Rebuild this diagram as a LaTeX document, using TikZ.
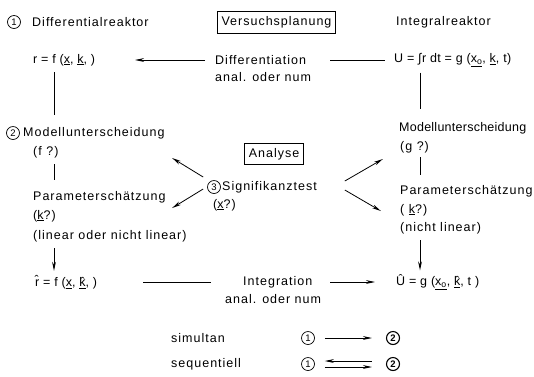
\documentclass[tikz,border=0pt]{standalone}
\usepackage{fontspec}
\setmainfont{Liberation Sans}[LetterSpace=8]
\usetikzlibrary{arrows.meta}
\newcommand{\tightls}{\addfontfeature{LetterSpace=3}}
\begin{document}
\begin{tikzpicture}[x=1pt,y=-1pt,
  lbl/.style={anchor=west,inner sep=0pt,font=\fontsize{12.5}{14}\selectfont},
  num/.style={circle,draw,line width=0.7pt,minimum size=13pt,inner sep=0pt,font=\fontsize{9.5}{10}\selectfont},
  titlebox/.style={draw,line width=0.8pt,inner xsep=4pt,inner ysep=5pt,font=\fontsize{12.5}{14}\selectfont},
  conn/.style={line width=0.8pt},
  arr/.style={line width=0.8pt,-{Stealth[length=9pt,width=3.8pt]}}]
\useasboundingbox (0,0) rectangle (534,376);

% headers
\node[num] (n1) at (14,22) {1};
\node[lbl] (dr) at (32,22) {Differentialreaktor};
\node[titlebox] (vp) at (276.5,22.5) {Versuchsplanung};
\node[lbl] (ir) at (396,22) {Integralreaktor};

% row 1
\node[lbl] (r) at (33,60) {\tightls r = f (\underline{x}, \underline{k}, )};
\node[lbl] (diff) at (215,60) {Differentiation};
\node[lbl] (diff2) at (215,77) {anal. oder num};
\node[lbl] (U) at (394,60) {\tightls U = ∫r dt = g (\underline{x\textsubscript{o}}, \underline{k}, t)};
\draw[arr] ([xshift=-10pt]diff.west) -- ([xshift=102pt]r.west);
\draw[conn] ([xshift=115pt]diff.west) -- ([xshift=-9pt]U.west);

% left column
\node[num] (n2) at (13,133) {2};
\node[lbl] (m1) at (23,133) {Modellunterscheidung};
\node[lbl] (f) at (33,152) {(f ?)};
\node[lbl] (p1) at (33,197) {Parameterschätzung};
\node[lbl] (k1) at (33,216) {(\underline{k}?)};
\node[lbl] (lin) at (33,236) {(linear oder nicht linear)};
\node[lbl] (rh) at (35,282) {\tightls \^{r} = f (\underline{x}, \underline{\^{k}}, )};
\draw[conn] ([xshift=21pt,yshift=-6pt]r.south west) -- ([xshift=31pt,yshift=12pt]m1.north west);
\draw[conn] ([xshift=21pt,yshift=-6pt]f.south west) -- ([xshift=21pt,yshift=11pt]p1.north west);
\draw[arr] ([xshift=21pt,yshift=-6pt]lin.south west) -- ([xshift=19pt,yshift=4pt]rh.north west);

% middle
\node[titlebox] (an) at (274,154) {Analyse};
\node[num] (n3) at (214,187) {3};
\node[lbl] (sig) at (222,187) {Signifikanztest};
\node[lbl] (x) at (213,205) {(\underline{x}?)};
\node[lbl] (int) at (243,282) {Integration};
\node[lbl] (int2) at (225,299) {anal. oder num};

% right column
\node[lbl] (m2) at (399,128) {\addfontfeature{LetterSpace=2}Modellunterscheidung};
\node[lbl] (g) at (400,147) {(g ?)};
\node[lbl] (p2) at (400,191) {Parameterschätzung};
\node[lbl] (k2) at (400,210) {( \underline{k}?)};
\node[lbl] (nl) at (400,228) {(nicht linear)};
\node[lbl] (Uh) at (396,282) {\tightls \^{U} = g (\underline{x\textsubscript{o}}, \underline{\^{k}}, t )};
\draw[conn] ([xshift=26pt,yshift=-6pt]U.south west) -- ([xshift=21pt,yshift=13pt]m2.north west);
\draw[conn] ([xshift=20pt,yshift=-4pt]g.south west) -- ([xshift=20pt,yshift=10pt]p2.north west);
\draw[arr] ([xshift=20pt,yshift=-6pt]nl.south west) -- ([xshift=24pt,yshift=4pt]Uh.north west);

% bottom connectors
\draw[conn] ([xshift=108pt]rh.west) -- ([xshift=-32pt]int.west);
\draw[arr] ([xshift=87pt]int.west) -- ([xshift=-21pt]Uh.west);

% analysis arrows
\draw[arr] ([xshift=-4pt,yshift=-2pt]n3.west) -- ([xshift=-35pt,yshift=-21pt]n3.west);
\draw[arr] ([xshift=-4pt,yshift=10pt]n3.west) -- ([xshift=-35pt,yshift=29pt]n3.west);
\draw[arr] ([xshift=124pt,yshift=-3pt]n3.east) -- ([xshift=160pt,yshift=-24pt]n3.east);
\draw[arr] ([xshift=124pt,yshift=6pt]n3.east) -- ([xshift=162pt,yshift=28pt]n3.east);

% legend
\node[lbl] (sim) at (171,338) {simultan};
\node[lbl] (seq) at (171,364) {sequentiell};
\node[num] (a1) at (308,338) {1};
\node[num,line width=1.1pt,font=\fontsize{9.5}{10}\bfseries] (a2) at (393,338) {2};
\node[num] (b1) at (308,364) {1};
\node[num,line width=1.1pt,font=\fontsize{9.5}{10}\bfseries] (b2) at (393,364) {2};
\draw[arr] ([xshift=10pt]a1.east) -- ([xshift=-14pt]a2.west);
\draw[arr] ([xshift=10pt,yshift=-3pt]b1.east) -- ([xshift=-14pt,yshift=-3pt]b2.west);
\draw[arr] ([xshift=-14pt,yshift=3pt]b2.west) -- ([xshift=10pt,yshift=3pt]b1.east);
\end{tikzpicture}
\end{document}
